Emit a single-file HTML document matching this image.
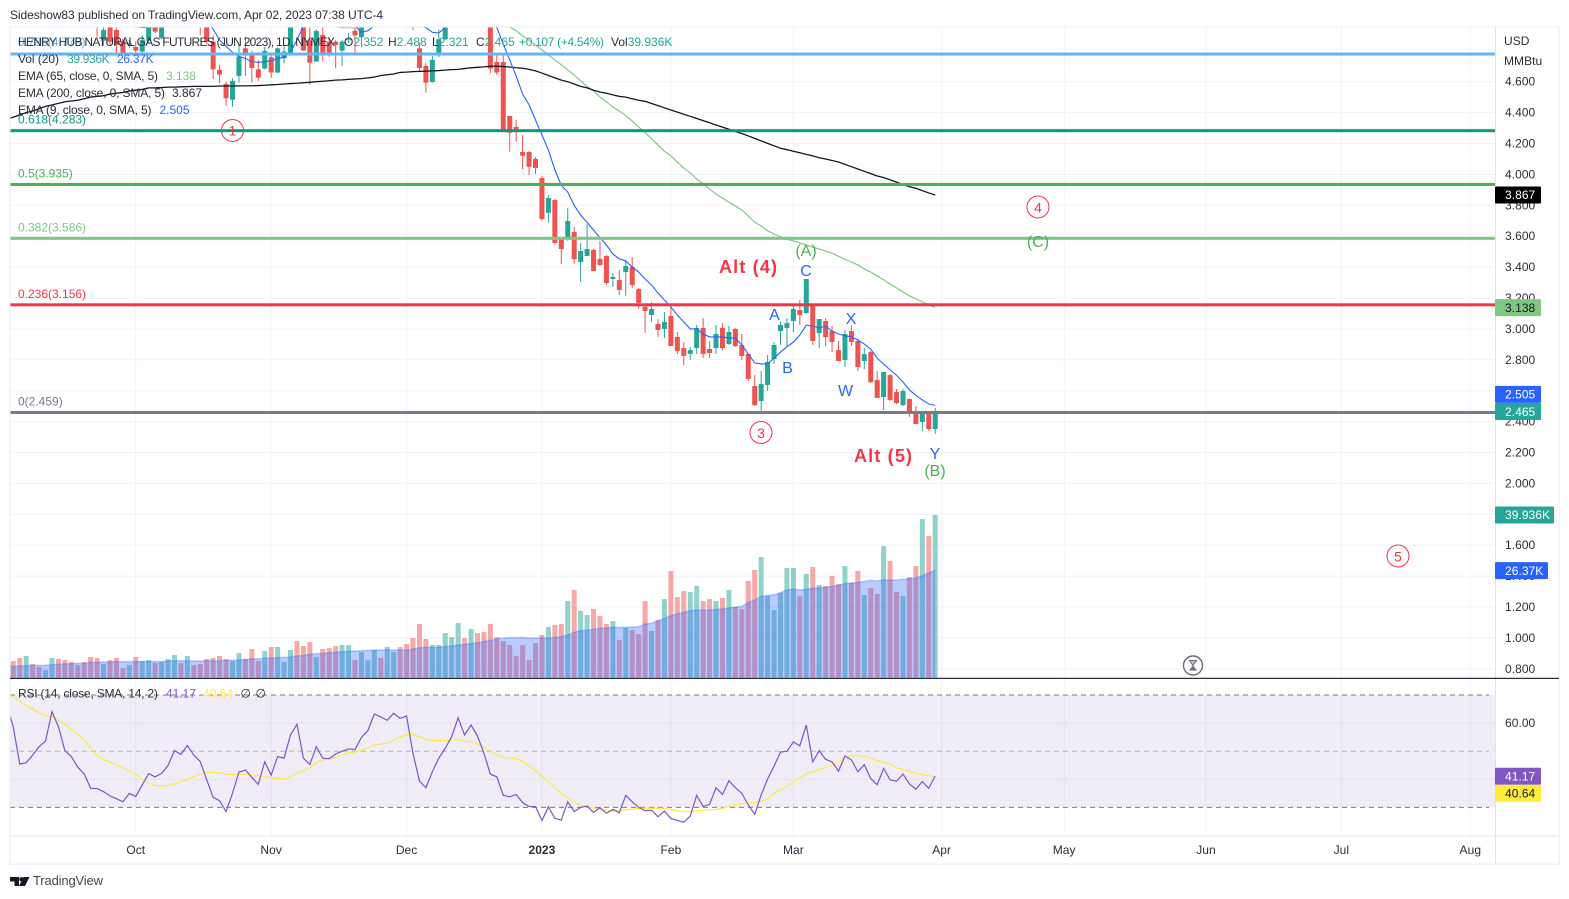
<!DOCTYPE html>
<html lang="en">
<head>
<meta charset="utf-8">
<title>Henry Hub Natural Gas Futures chart</title>
<style>
html,body{margin:0;padding:0;background:#fff;width:1569px;height:899px;overflow:hidden}
svg{display:block;font-family:"Liberation Sans",sans-serif;font-size:12px}
.tick{letter-spacing:.05px}
.badge{font-size:12px;letter-spacing:.05px}
.wave{font-size:16px}
</style>
</head>
<body>
<svg id="chart" width="1569" height="899" viewBox="0 0 1569 899" xmlns="http://www.w3.org/2000/svg" fill="#2a2e39">
  <defs>
    <clipPath id="main-clip"><rect x="10" y="27" width="1485" height="651"/></clipPath>
    <clipPath id="rsi-clip"><rect x="10" y="679" width="1485" height="157"/></clipPath>
  </defs>
  <rect x="0" y="0" width="1569" height="899" fill="#ffffff"/>
  <text x="10" y="19" textLength="373">Sideshow83 published on TradingView.com, Apr 02, 2023 07:38 UTC-4</text>

  <g id="grid"></g>
  <rect x="10" y="695" width="1485" height="112.5" fill="#7e57c2" fill-opacity="0.115"/>
  <g id="rsi-grid"></g>

  <g id="main-pane" clip-path="url(#main-clip)">
    <g id="volume"></g>
    <g id="volume-sma"></g>
    <g id="candles"></g>
    <g id="emas"></g>
    <g id="fib"></g>
  </g>
  <g id="rsi-pane" clip-path="url(#rsi-clip)"></g>

  <g>
    <text x="18" y="46" fill="#64b5f6" textLength="67.5">0.786(4.779)</text>
    <text x="18" y="46" textLength="317">HENRY HUB NATURAL GAS FUTURES (JUN 2023), 1D, NYMEX</text>
    <text x="344" y="46">O<tspan fill="#26a69a">2.352</tspan></text>
    <text x="388" y="46">H<tspan fill="#26a69a">2.488</tspan></text>
    <text x="432" y="46">L<tspan fill="#26a69a">2.321</tspan></text>
    <text x="476" y="46">C<tspan fill="#26a69a">2.465</tspan></text>
    <text x="519" y="46" fill="#26a69a" textLength="85">+0.107 (+4.54%)</text>
    <text x="611" y="46">Vol<tspan fill="#26a69a">39.936K</tspan></text>
    <text x="18" y="63" textLength="41">Vol (20)</text>
    <text x="67" y="63" fill="#26a69a" textLength="42.7">39.936K</text>
    <text x="117" y="63" fill="#2962ff" textLength="36.7">26.37K</text>
    <text x="18" y="80" textLength="140">EMA (65, close, 0, SMA, 5)</text>
    <text x="166" y="80" fill="#81c784">3.138</text>
    <text x="18" y="97" textLength="147">EMA (200, close, 0, SMA, 5)</text>
    <text x="172" y="97">3.867</text>
    <text x="18" y="114" textLength="133.5">EMA (9, close, 0, SMA, 5)</text>
    <text x="159.5" y="114" fill="#2962ff">2.505</text>
    <text x="18" y="697.5" textLength="140">RSI (14, close, SMA, 14, 2)</text>
    <text x="166" y="697.5" fill="#7e57c2">41.17</text>
    <text x="203" y="697.5" fill="#ffeb3b">40.64</text>
    <text x="240.5" y="697.5">∅</text>
    <text x="255.5" y="697.5">∅</text>
  </g>

  <g id="annotations">
    <g><circle cx="232.5" cy="130.5" r="11" fill="none" stroke="#f23645"/><text x="232.5" y="135.5" text-anchor="middle" fill="#f23645" font-size="14">1</text></g>
    <g><circle cx="761" cy="432.5" r="11" fill="none" stroke="#f23645"/><text x="761" y="438" text-anchor="middle" fill="#f23645" font-size="14">3</text></g>
    <g><circle cx="1038" cy="207" r="11" fill="none" stroke="#f23645"/><text x="1038" y="212.5" text-anchor="middle" fill="#f23645" font-size="14">4</text></g>
    <g><circle cx="1398" cy="556" r="11" fill="none" stroke="#f23645"/><text x="1398" y="561.5" text-anchor="middle" fill="#f23645" font-size="14">5</text></g>
    <text x="719" y="273" fill="#f23645" font-size="18" font-weight="bold" textLength="58">Alt (4)</text>
    <text x="854" y="462" fill="#f23645" font-size="18" font-weight="bold" textLength="58">Alt (5)</text>
    <text class="wave" x="806" y="256" text-anchor="middle" fill="#4caf50">(A)</text>
    <text class="wave" x="1038" y="247" text-anchor="middle" fill="#4caf50">(C)</text>
    <text class="wave" x="935" y="476" text-anchor="middle" fill="#4caf50">(B)</text>
    <text class="wave" x="806" y="276" text-anchor="middle" fill="#2962ff">C</text>
    <text class="wave" x="774.5" y="320" text-anchor="middle" fill="#2962ff">A</text>
    <text class="wave" x="787.5" y="373" text-anchor="middle" fill="#2962ff">B</text>
    <text class="wave" x="851" y="324" text-anchor="middle" fill="#2962ff">X</text>
    <text class="wave" x="845.5" y="396" text-anchor="middle" fill="#2962ff">W</text>
    <text class="wave" x="935" y="459" text-anchor="middle" fill="#2962ff">Y</text>
    <g>
      <circle cx="1193" cy="665.5" r="9.5" fill="none" stroke="#6a6d78" stroke-width="1.4"/>
      <polygon points="1189.5,660.5 1196.5,660.5 1193,665.5" fill="#6a6d78" fill-opacity=".45" stroke="#6a6d78" stroke-width="1"/>
      <polygon points="1193,665.5 1197,670.5 1189,670.5" fill="#6a6d78"/>
    </g>
  </g>

  <g>
    <rect x="9" y="26" width="1551" height="1.5" fill="#f0f3fa"/>
    <rect x="9" y="26" width="1.5" height="839" fill="#f0f3fa"/>
    <rect x="1558.6" y="26" width="1.4" height="839" fill="#f0f3fa"/>
    <rect x="9" y="863.4" width="1551" height="1.6" fill="#f0f3fa"/>
    <rect x="1495" y="27" width="1" height="837" fill="#e0e3eb"/>
    <rect x="10" y="835.6" width="1549" height="1" fill="#e0e3eb"/>
    <rect x="10" y="677.8" width="1549" height="1.1" fill="#131722"/>
  </g>

  <g id="price-axis">
    <text class="tick" x="1504" y="45">USD</text>
    <text class="tick" x="1504" y="65">MMBtu</text>
  </g>
  <g id="time-axis"></g>
  <g id="badges"></g>

  <g>
    <path d="M10 877h9v9h-4.5v-4.5H10zM23.5 877h6l-4.5 9h-6z" fill="#131722"/>
    <circle cx="21.5" cy="879.3" r="2.2" fill="#131722"/>
    <text x="33" y="885" font-size="13" fill="#434651" textLength="70">TradingView</text>
  </g>
</svg>

<script>
// ----- Values -----
const priceTicks = [4.6,4.4,4.2,4.0,3.8,3.6,3.4,3.2,3.0,2.8,2.6,2.4,2.2,2.0,1.8,1.6,1.4,1.2,1.0,0.8];
const priceTickLabels = ['4.600','4.400','4.200','4.000','3.800','3.600','3.400','3.200','3.000','2.800','','2.400','2.200','2.000','','1.600','1.400','1.200','1.000','0.800'];
const timeTickBars = [19,40,61,82,102,121,144,163,185,206,226];
const timeTickLabels = ['Oct','Nov','Dec','2023','Feb','Mar','Apr','May','Jun','Jul','Aug'];
const fibRatios = ['0.786','0.618','0.5','0.382','0.236','0'];
const fibPrices = [4.779,4.283,3.935,3.586,3.156,2.459];

const opens = [5.75,5.6,5.45,5.6,5.45,5.4,5.55,5.8,5.6,5.4,5.35,5.2,5.12,5.03,
4.866,4.98,4.935,4.866,4.838,4.825,4.795,4.866,5.02,4.881,
5.0,5.15,5.3,5.2,5.4,5.25,5.0,4.859,4.676,4.585,
4.484,4.637,4.816,4.773,4.68,4.685,4.758,4.659,4.751,4.788,
5.05,5.0,4.866,4.73,4.902,4.859,4.859,4.801,4.87,4.93,
4.887,5.0,5.15,5.25,5.15,5.3,5.4,5.25,5.1,4.816,
4.702,4.598,4.784,4.874,4.98,5.15,5.35,5.25,5.45,5.35,
5.25,4.728,4.728,4.378,4.307,4.145,4.145,4.10,3.977,3.752,
3.834,3.588,3.588,3.627,3.433,3.472,3.511,3.452,3.472,3.323,
3.316,3.368,3.401,3.258,3.144,3.09,3.032,3.0,3.084,2.948,
2.876,2.838,2.876,3.006,2.87,2.876,3.006,2.902,3.0,2.896,
2.838,2.63,2.533,2.637,2.805,2.986,3.006,3.051,3.122,3.103,
3.148,2.973,3.051,2.986,2.863,2.799,2.986,2.922,2.792,2.85,
2.669,2.559,2.701,2.591,2.507,2.546,2.468,2.397,2.462,2.352];

const highs = [5.8,5.68,5.7,5.65,5.55,5.6,5.85,5.85,5.65,5.5,5.4,5.3,5.2,5.1,
5.0,5.05,4.97,4.88,4.87,4.86,4.9,5.0,5.05,5.05,
5.2,5.35,5.35,5.45,5.45,5.3,5.05,4.9,4.71,4.6,
4.622,4.838,4.892,4.8,4.74,4.827,4.78,4.82,4.83,5.0,
5.1,5.05,4.97,4.939,4.96,4.89,4.87,4.87,4.913,4.96,
5.0,5.2,5.3,5.3,5.35,5.45,5.45,5.3,5.15,4.85,
4.72,4.767,4.939,5.0,5.2,5.4,5.4,5.5,5.5,5.4,
5.3,4.788,4.784,4.38,4.352,4.255,4.15,4.113,3.99,3.867,
3.84,3.593,3.783,3.66,3.554,3.679,3.519,3.569,3.478,3.362,
3.381,3.44,3.465,3.265,3.161,3.174,3.064,3.109,3.142,2.98,
2.915,2.883,3.025,3.07,2.922,3.025,3.038,3.019,3.004,2.967,
2.842,2.702,2.728,2.831,2.915,3.047,3.07,3.155,3.187,3.323,
3.152,3.064,3.07,3.019,2.922,2.993,3.025,2.934,2.876,2.857,
2.727,2.721,2.708,2.611,2.611,2.55,2.501,2.456,2.466,2.488];

const lows = [5.55,5.4,5.4,5.4,5.35,5.35,5.5,5.55,5.35,5.25,5.15,5.08,5.0,4.89,
4.833,4.83,4.784,4.78,4.816,4.784,4.788,4.85,4.913,4.875,
4.96,5.1,5.15,5.15,5.2,4.902,4.848,4.618,4.59,4.445,
4.439,4.594,4.637,4.594,4.605,4.68,4.626,4.659,4.719,4.784,
4.97,4.8,4.579,4.73,4.73,4.762,4.687,4.704,4.85,4.773,
4.827,4.97,5.1,5.1,5.1,5.25,5.2,5.05,4.935,4.669,
4.529,4.594,4.758,4.87,4.97,5.1,5.2,5.2,5.3,5.2,
4.654,4.644,4.29,4.147,4.212,4.035,3.996,4.003,3.70,3.688,
3.547,3.42,3.571,3.42,3.304,3.472,3.375,3.407,3.284,3.271,
3.219,3.215,3.267,3.131,2.976,3.047,2.948,2.941,2.889,2.838,
2.766,2.799,2.838,2.812,2.812,2.838,2.863,2.896,2.883,2.799,
2.663,2.501,2.469,2.598,2.773,2.896,2.889,2.98,3.025,3.096,
2.896,2.876,2.889,2.85,2.792,2.753,2.889,2.727,2.74,2.65,
2.553,2.475,2.533,2.514,2.501,2.43,2.384,2.339,2.339,2.321];

const closes = [5.6,5.45,5.6,5.45,5.4,5.55,5.8,5.6,5.4,5.35,5.2,5.12,5.03,4.98,
4.935,4.859,4.838,4.784,4.848,4.801,4.87,4.98,4.924,5.0,
5.15,5.3,5.2,5.4,5.25,5.0,4.859,4.68,4.646,4.493,
4.605,4.762,4.773,4.689,4.626,4.799,4.659,4.816,4.795,4.98,
4.98,4.801,4.723,4.928,4.784,4.78,4.838,4.859,4.875,4.90,
4.98,5.15,5.25,5.15,5.3,5.4,5.25,5.1,5.0,4.689,
4.594,4.741,4.874,4.98,5.15,5.35,5.25,5.45,5.35,5.25,
4.685,4.659,4.292,4.27,4.292,4.121,4.05,4.042,3.711,3.847,
3.556,3.517,3.698,3.452,3.504,3.517,3.375,3.414,3.297,3.336,
3.252,3.407,3.284,3.168,3.116,3.129,2.993,3.045,2.889,2.857,
2.825,2.863,3.006,2.838,2.844,2.967,2.876,2.98,2.889,2.825,
2.676,2.507,2.643,2.786,2.896,3.025,3.038,3.129,3.09,3.323,
2.922,3.064,2.947,2.915,2.792,2.967,2.915,2.753,2.837,2.656,
2.553,2.721,2.54,2.52,2.598,2.456,2.384,2.456,2.352,2.465];

const volumes = [4.09,4.83,5.32,3.36,2.62,1.88,4.83,4.58,4.34,3.85,3.11,3.85,5.07,4.83,
3.36,4.34,4.83,2.37,3.11,5.07,4.09,4.34,3.60,3.85,
4.58,5.56,3.60,5.32,3.11,3.36,4.58,4.83,5.32,4.58,
4.09,6.06,4.58,7.04,4.09,6.55,7.53,7.53,3.85,6.79,
9.00,7.77,8.76,5.07,7.04,7.28,7.77,8.02,8.02,4.34,
6.30,4.34,6.79,4.83,7.53,6.30,7.53,8.27,9.74,13.18,
9.49,8.02,8.02,10.97,9.98,13.42,9.74,11.95,10.97,11.21,
13.18,9.98,9.00,8.02,5.32,8.02,4.34,8.51,10.47,12.44,
12.93,13.18,18.82,21.52,16.37,15.38,16.86,15.14,13.18,13.91,
9.25,12.19,11.70,10.72,18.82,11.46,14.16,19.31,26.19,19.80,
21.28,21.03,22.50,18.82,19.31,18.82,19.56,21.52,17.35,16.86,
23.73,26.43,29.62,20.05,16.61,20.79,26.92,26.92,20.05,25.45,
27.17,22.75,22.50,24.96,23.00,27.41,23.24,26.19,20.29,22.01,
20.54,32.32,28.64,21.03,20.05,24.71,27.41,38.95,34.78,39.94];

const volumeSmaLeadIn = 2.74;
const volumeSma = [2.78,2.86,2.95,3.03,3.03,3.03,3.19,3.27,3.36,3.44,3.52,3.52,3.76,3.76,
3.85,3.85,3.93,3.93,3.93,3.93,3.93,3.93,3.93,3.93,
4.09,4.17,4.17,4.17,4.09,4.09,4.17,4.17,4.17,4.26,
4.26,4.34,4.42,4.58,4.66,4.75,4.83,4.91,4.99,5.07,
5.32,5.48,5.73,5.89,5.97,6.14,6.22,6.38,6.46,6.55,
6.63,6.71,6.79,6.79,6.79,6.79,6.79,6.79,7.04,7.36,
7.45,7.45,7.45,7.61,7.77,8.02,8.18,8.35,8.51,8.92,
9.17,9.49,9.74,9.82,9.82,9.90,9.74,9.74,9.74,9.74,
9.90,10.07,10.47,11.13,11.54,11.62,11.87,12.11,12.19,12.36,
12.36,12.36,12.44,12.52,13.18,13.34,13.99,14.57,15.22,15.63,
16.04,16.45,16.61,16.61,16.61,16.78,16.86,17.10,17.35,17.51,
18.49,19.07,19.97,20.21,20.38,20.87,21.52,21.77,21.52,21.69,
21.93,22.09,22.18,22.42,22.67,23.08,23.24,23.40,23.65,23.90,
23.73,23.98,23.98,23.98,24.14,24.30,24.47,25.04,25.70,26.37];

const ema9 = [5.45,5.45,5.48,5.5,5.48,5.46,5.5,5.55,5.5,5.45,5.4,5.35,5.3,5.2,5.12,5.06,5.02,4.99,4.97,
4.955,4.95,4.95,4.955,5.0,5.05,5.1,5.1,5.1,5.05,5.0,4.99,
4.94,4.87,4.83,4.79,4.765,4.75,4.73,4.725,4.73,4.735,4.75,4.76,4.79,4.87,4.96,
5.0,5.0,5.0,5.0,4.99,4.98,4.97,4.96,4.92,4.93,4.96,
5.0,5.02,5.0,4.97,4.96,4.96,4.96,
4.95,4.92,4.915,4.95,
5.0,5.05,5.1,5.15,5.2,5.1,5.0,4.95,
4.844,4.74,4.637,4.52,
4.45,4.352,4.255,4.158,4.03,3.93,3.886,3.80,3.737,3.69,
3.64,3.59,3.543,3.485,3.453,3.44,3.40,3.368,3.323,3.284,
3.232,3.187,3.142,3.09,3.045,3.0,3.0,2.967,2.948,2.948,
2.948,2.941,2.941,2.896,2.838,2.78,2.773,2.773,2.81,2.85,
2.883,2.915,2.96,3.025,3.018,3.006,3.018,2.986,2.967,2.955,
2.948,2.928,2.902,2.87,2.81,2.773,2.734,2.70,2.656,2.605,
2.57,2.54,2.514,2.505];

const ema65 = [5.34,5.34,5.33,5.33,5.33,5.32,5.32,5.32,5.32,5.31,5.31,5.3,5.3,5.29,5.28,
5.27,5.26,5.25,5.24,5.23,5.22,5.21,5.2,5.19,5.18,5.17,5.16,5.15,5.14,5.13,
5.12,5.11,5.1,5.09,5.08,5.07,5.06,5.05,5.04,5.03,5.02,5.01,5.0,5.0,5.0,
5.0,4.99,4.98,4.97,4.96,4.955,4.95,4.95,4.95,4.955,4.96,4.97,
4.98,4.99,5.0,5.0,5.0,5.0,5.0,5.0,5.0,5.0,5.0,5.0,5.0,5.0,5.0,5.0,5.0,4.99,4.98,4.97,
4.955,4.93,4.896,4.87,4.838,4.805,4.773,4.74,4.71,4.676,4.643,4.605,4.57,4.54,4.50,
4.47,4.436,4.41,4.38,4.346,4.307,4.27,4.23,4.19,4.15,4.12,4.08,4.04,4.01,3.97,
3.94,3.905,3.873,3.847,3.82,3.795,3.77,3.73,3.69,3.666,3.634,3.615,3.595,3.58,
3.57,3.556,3.543,3.53,3.517,3.504,3.49,3.47,3.45,3.433,3.414,3.388,3.368,3.342,
3.317,3.29,3.265,3.24,3.214,3.195,3.175,3.155,3.138];

const ema200LeadIn = 4.36;
const ema200 = [4.37,4.385,4.40,4.41,4.425,4.44,4.45,4.46,4.47,4.475,4.48,4.49,4.50,4.505,4.51,
4.52,4.525,4.53,4.54,4.545,4.55,4.56,4.56,4.562,4.565,4.565,4.567,4.568,4.57,4.57,
4.57,4.57,4.572,4.572,4.572,4.573,4.573,4.574,4.575,4.577,4.58,4.582,4.585,4.588,4.59,
4.593,4.596,4.60,4.603,4.606,4.61,4.612,4.615,4.618,4.62,
4.625,4.63,4.64,4.645,4.65,4.66,4.662,4.665,4.667,4.668,4.67,4.672,4.675,4.678,4.68,
4.685,4.69,4.693,4.696,4.70,
4.70,4.698,4.695,4.69,4.687,4.68,4.67,4.656,4.64,4.625,4.61,4.60,4.585,4.57,4.56,
4.545,4.533,4.525,4.515,4.505,4.50,4.49,4.48,
4.473,4.459,4.445,4.431,4.417,4.403,4.389,4.376,4.362,4.348,4.334,4.32,4.306,4.292,4.278,
4.265,4.249,4.233,4.217,4.201,4.185,4.169,
4.16,4.15,4.14,4.13,4.12,4.108,4.10,4.09,4.08,
4.065,4.05,4.035,4.02,4.005,3.99,3.98,3.965,3.95,3.935,3.92,3.91,3.895,3.88,3.867];

const rsiLeadIn = 66.5;
const rsiValues = [58.6,45.4,45.9,48.6,51.6,53.6,64.1,58.7,50.2,48.1,44.3,41.9,36.8,36.7,35.6,34.1,33.1,32.0,35.0,33.9,
38.0,42.0,40.9,42.1,44.9,50.2,48.9,52.0,48.6,46.3,39.8,33.6,32.4,28.5,35.0,42.6,43.3,40.7,38.2,46.2,
41.5,48.1,47.5,55.8,59.6,47.5,45.3,51.6,47.5,47.3,49.0,50.0,50.8,50.6,54.9,57.3,63.2,62.2,61.0,63.5,
61.7,62.5,49.2,39.4,37.0,42.7,47.5,51.0,55.2,61.9,55.8,59.3,55.4,49.2,41.8,40.9,34.3,33.8,34.6,31.7,
30.3,30.3,25.3,30.2,26.1,25.5,32.0,28.5,30.0,30.5,28.2,29.9,27.9,29.3,28.1,34.3,32.0,30.0,28.8,29.0,
26.7,28.7,26.0,25.4,24.7,26.9,34.3,30.3,31.1,37.0,34.6,39.5,37.0,35.0,30.9,27.5,34.4,40.1,44.7,49.7,
50.0,53.3,51.9,59.3,46.2,50.2,47.1,46.2,42.9,48.3,46.9,42.7,45.2,40.3,38.1,43.9,39.8,39.3,41.9,38.3,
36.5,39.2,36.8,41.17];

const rsiMaLeadIn = 70.4;
const rsiMa = [69.2,68.0,66.2,64.9,63.7,62.6,62.3,61.1,59.6,58.0,56.0,53.8,51.1,48.5,47.1,46.2,45.2,44.1,42.9,41.7,
40.0,38.6,37.8,37.6,37.7,38.3,39.2,40.0,40.9,41.9,42.4,42.5,42.2,41.9,41.7,41.8,41.8,41.5,41.2,40.9,
40.6,40.2,40.1,40.9,42.2,43.1,44.1,45.9,46.8,47.5,47.8,48.5,49.4,49.7,50.4,51.1,52.2,52.6,52.8,53.9,
55.1,55.8,55.9,55.2,54.2,53.8,53.8,53.8,54.0,54.1,53.6,53.4,52.6,51.4,50.0,48.8,47.8,47.6,47.3,46.4,
44.7,43.1,41.1,39.2,37.0,34.9,33.5,31.9,30.8,30.2,29.8,29.3,29.0,28.7,28.8,29.2,29.4,29.6,29.7,29.7,
29.7,29.6,29.2,28.8,28.6,28.5,28.8,29.0,29.1,29.3,29.7,30.3,31.0,31.3,31.6,31.6,32.2,33.1,35.0,36.3,
37.3,39.0,40.6,41.9,42.6,43.4,44.3,45.1,46.2,47.7,48.4,48.5,48.1,47.6,46.6,46.0,45.6,44.1,43.5,42.8,
42.1,41.6,41.3,40.64];

const badgePrices = [3.867,3.138,2.505,2.465];
const badgeColors = ['#000000','#81c784','#2962ff','#26a69a'];
const badgeTextColors = ['#ffffff','#131722','#ffffff','#ffffff'];
const rsiAxisTicks = [60];
const rsiBands = [70,50,30];

// ----- Axis functions -----
const X0 = 13.3, BAR = 6.447;
function barX(i){ return X0 + BAR * i; }
function priceY(p){ return 112.6 + (4.4 - p) * 154.5; }
function volumeY(k){ return 677.67 - k * 4.073; }
function rsiY(v){ return 695 + (70 - v) * 2.81; }

const NS = 'http://www.w3.org/2000/svg';
function svgEl(tag, parent, attrs){
  const el = document.createElementNS(NS, tag);
  for (const k in attrs) el.setAttribute(k, attrs[k]);
  parent.appendChild(el);
  return el;
}
function linePath(values, yFn, leadIn){
  let d = leadIn === undefined ? '' : 'M' + barX(-1).toFixed(2) + ' ' + yFn(leadIn).toFixed(2);
  values.forEach(function(v, i){
    d += (d ? 'L' : 'M') + barX(i).toFixed(2) + ' ' + yFn(v).toFixed(2);
  });
  return d;
}

// ----- Grid -----
const grid = document.getElementById('grid');
priceTicks.forEach(function(p){
  const l = svgEl('rect', grid, {x:10, y:(priceY(p)-0.5).toFixed(2), width:1485, height:1, fill:'#f0f3fa'});
  
  
});
timeTickBars.forEach(function(b){
  const l = svgEl('rect', grid, {x:(barX(b)-0.5).toFixed(2), y:27, width:1, height:809, fill:'#f0f3fa'});
  
  
});

// ----- RSI bands -----
const rsiGrid = document.getElementById('rsi-grid');
[60,40].forEach(function(v){
  const l = svgEl('rect', rsiGrid, {x:10, y:(rsiY(v)-0.5).toFixed(2), width:1485, height:1, fill:'#e5e1f0'});
  
  
});
rsiBands.forEach(function(v){
  const y = rsiY(v).toFixed(2);
  const l = svgEl('line', rsiGrid, {x1:10, x2:1489, y1:y, y2:y, stroke:'#787b86', 'stroke-width':1, 'stroke-dasharray':'5 4', 'stroke-opacity': v === 50 ? 0.5 : 1});
  
  
});

// ----- Volume -----
const volG = document.getElementById('volume');
volumes.forEach(function(k, i){
  const up = closes[i] >= opens[i];
  const y = volumeY(k);
  const r = svgEl('rect', volG, {x:(barX(i)-2.5).toFixed(2), y:y.toFixed(2), width:5, height:(677.67-y).toFixed(2), fill: up ? '#26a69a' : '#ef5350', 'fill-opacity':0.5});
  
  
});
const smaG = document.getElementById('volume-sma');
const smaD = linePath(volumeSma, volumeY, volumeSmaLeadIn);
const smaArea = svgEl('path', smaG, {d: smaD + 'L' + barX(volumeSma.length-1).toFixed(2) + ' 677.67L' + barX(-1).toFixed(2) + ' 677.67Z', fill:'#2962ff', 'fill-opacity':0.33});


const smaLine = svgEl('path', smaG, {d: smaD, fill:'none', stroke:'#2962ff', 'stroke-opacity':0.3, 'stroke-width':1.5});



// ----- Candles -----
const candleG = document.getElementById('candles');
opens.forEach(function(o, i){
  const c = closes[i];
  const col = c >= o ? '#26a69a' : '#ef5350';
  const x = barX(i);
  const g = svgEl('g', candleG, {});
  
  
  const wick = svgEl('rect', g, {x:(x-0.5).toFixed(2), y:priceY(highs[i]).toFixed(2), width:1, height:(priceY(lows[i])-priceY(highs[i])).toFixed(2), fill:col});
  
  
  const top = priceY(Math.max(o, c));
  const h = Math.max(1, priceY(Math.min(o, c)) - top);
  const body = svgEl('rect', g, {x:(x-2.5).toFixed(2), y:top.toFixed(2), width:5, height:h.toFixed(2), fill:col});
  
  
});

// ----- EMAs -----
const emaG = document.getElementById('emas');
const ema65Line = svgEl('path', emaG, {d: linePath(ema65, priceY), fill:'none', stroke:'#81c784', 'stroke-width':1.2});


const ema200Line = svgEl('path', emaG, {d: linePath(ema200, priceY, ema200LeadIn), fill:'none', stroke:'#131722', 'stroke-width':1.3});


const ema9Line = svgEl('path', emaG, {d: linePath(ema9, priceY), fill:'none', stroke:'#2962ff', 'stroke-width':1.1});



// ----- Fibonacci levels -----
const fibColors = ['#64b5f6','#089981','#4caf50','#81c784','#f23645','#787b86'];
const fibG = document.getElementById('fib');
fibPrices.forEach(function(p, i){
  const y = priceY(p);
  const l = svgEl('rect', fibG, {x:10, y:(y-1.5).toFixed(2), width:1485, height:3, fill:fibColors[i]});
  
  
  if (i > 0) {
    const t = svgEl('text', fibG, {x:18, y:(y-7).toFixed(2), fill:fibColors[i]});
    
    
    t.textContent = fibRatios[i] + '(' + p.toFixed(3) + ')';
  }
});

// ----- RSI -----
const rsiG = document.getElementById('rsi-pane');
const rsiMaLine = svgEl('path', rsiG, {d: linePath(rsiMa, rsiY, rsiMaLeadIn), fill:'none', stroke:'#ffeb3b', 'stroke-width':1.2});


const rsiLine = svgEl('path', rsiG, {d: linePath(rsiValues, rsiY, rsiLeadIn), fill:'none', stroke:'#7e57c2', 'stroke-width':1.2});



// ----- Axes -----
const priceAxis = document.getElementById('price-axis');
priceTicks.forEach(function(p, i){
  if (!priceTickLabels[i]) return;
  const t = svgEl('text', priceAxis, {x:1505, y:(priceY(p)+4).toFixed(2), 'class':'tick'});
  
  
  t.textContent = priceTickLabels[i];
});
rsiAxisTicks.forEach(function(v){
  const t = svgEl('text', priceAxis, {x:1505, y:(rsiY(v)+4).toFixed(2), 'class':'tick'});
  
  
  t.textContent = v.toFixed(2);
});
const timeAxis = document.getElementById('time-axis');
timeTickBars.forEach(function(b, i){
  const t = svgEl('text', timeAxis, {x:barX(b).toFixed(2), y:854, 'text-anchor':'middle', 'class':'tick'});
  if (timeTickLabels[i] === '2023') t.setAttribute('font-weight', 'bold');
  
  
  t.textContent = timeTickLabels[i];
});

// ----- Badges -----
const badgeG = document.getElementById('badges');
function badge(yc, w, bg, fg, text){
  const g = svgEl('g', badgeG, {});
  
  
  const r = svgEl('rect', g, {x:1495, y:(yc-8.5).toFixed(2), width:w, height:17, fill:bg, rx:1});
  
  
  const t = svgEl('text', g, {x:1505, y:(yc+4.2).toFixed(2), fill:fg, 'class':'badge'});
  
  
  t.textContent = text;
}
function badgeCentre(i){
  const y = priceY(badgePrices[i]);
  // the 2.505 tag is nudged upward by the chart so it clears the 2.465 tag below it
  if (i === 2) return Math.min(y, priceY(badgePrices[3]) - 17.2);
  return y;
}
[2,3,0,1].forEach(function(i){
  badge(badgeCentre(i), 46, badgeColors[i], badgeTextColors[i], badgePrices[i].toFixed(3));
});
badge(volumeY(volumes[volumes.length-1]), 59, '#26a69a', '#ffffff', '39.936K');
badge(volumeY(volumeSma[volumeSma.length-1]) + 0.4, 53, '#2962ff', '#ffffff', '26.37K');
badge(rsiY(rsiValues[rsiValues.length-1]) + 0.2, 46, '#7e57c2', '#ffffff', '41.17');
badge(rsiY(rsiValues[rsiValues.length-1]) + 17.2, 46, '#ffeb3b', '#131722', '40.64');
</script>
</body>
</html>
